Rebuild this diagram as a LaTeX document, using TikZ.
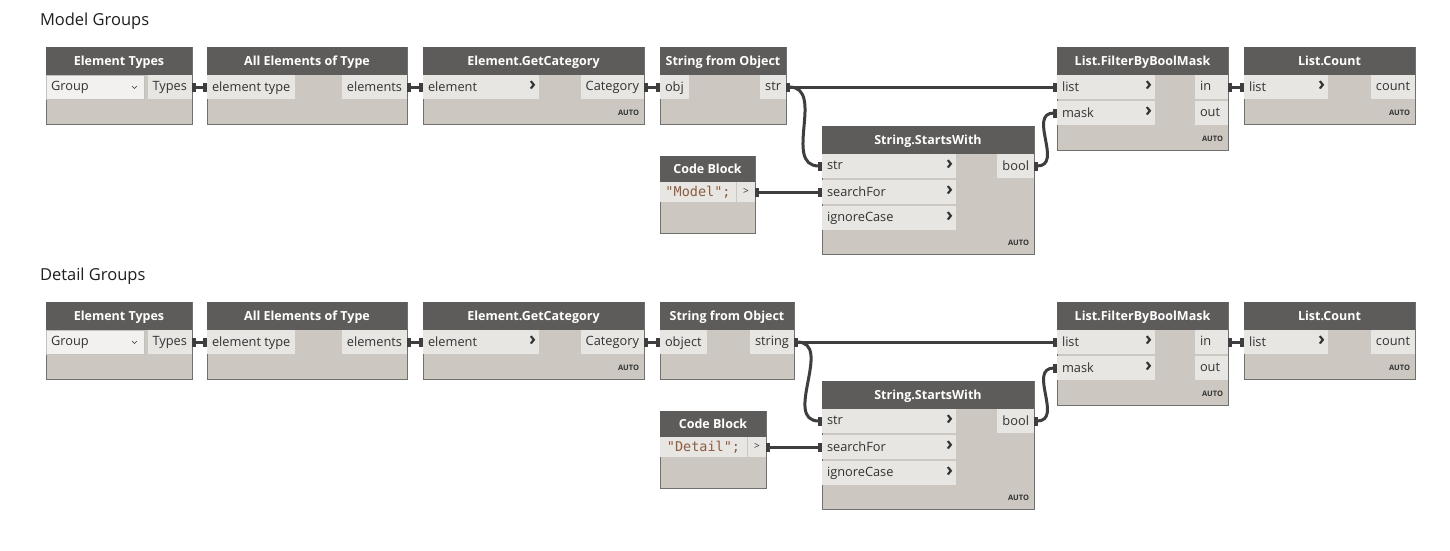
\documentclass[tikz,border=0pt]{standalone}
\usepackage{fontspec}
\setmainfont{Open Sans}
\newfontfamily\codefont{DejaVu Sans Mono}
\usepackage{tikz}
\usetikzlibrary{positioning,arrows.meta}
\definecolor{headgrey}{RGB}{94,92,90}
\definecolor{bodygrey}{RGB}{204,200,193}
\definecolor{portgrey}{RGB}{232,230,226}
\definecolor{edgegrey}{RGB}{112,112,110}
\definecolor{wiregrey}{RGB}{62,62,62}
\definecolor{labelgrey}{RGB}{50,50,50}
\definecolor{codebrown}{RGB}{140,92,64}
\definecolor{dropwhite}{RGB}{242,241,239}
\definecolor{dropedge}{RGB}{196,194,190}

\begin{document}
\begin{tikzpicture}[x=1pt, y=-1pt, outer sep=0pt,
grouptitle/.style={font=\fontsize{16.5}{20}\selectfont, text=black!88, anchor=west, inner sep=0pt},
body/.style={draw=edgegrey, fill=bodygrey, line width=0.8pt, anchor=north west, inner sep=0pt, minimum height=77pt},
head/.style={fill=headgrey, text=white, font=\fontsize{12.5}{15}\bfseries\selectfont, anchor=north west, inner sep=0pt, minimum height=28pt, text depth=1pt},
port/.style={fill=portgrey, text=labelgrey, font=\fontsize{12.8}{15}\selectfont, inner xsep=5pt, inner ysep=0pt, minimum height=24pt, text depth=1.5pt},
inport/.style={port, anchor=north west, align=left},
outport/.style={port, anchor=north east, align=left},
chevport/.style={inport, text width=#1, label={[chevron]east:›}},
chevron/.style={anchor=east, font=\fontsize{19}{19}\bfseries\selectfont, text=labelgrey, inner xsep=3pt, inner ysep=0pt, yshift=1pt},
drop/.style={fill=dropwhite, draw=dropedge, line width=0.6pt, text=labelgrey, font=\fontsize{12.8}{15}\selectfont, anchor=north west, align=left, inner xsep=5pt, inner ysep=0pt, minimum height=24pt, text depth=1.5pt},
codeline/.style={fill=portgrey, text=codebrown, font=\codefont\fontsize{13.5}{16}\selectfont, anchor=north west, inner xsep=4pt, inner ysep=0pt, minimum height=20pt},
autotag/.style={font=\fontsize{7.5}{9}\bfseries\selectfont, text=labelgrey, anchor=south east, inner sep=0pt},
wire/.style={draw=wiregrey, line width=3pt, {Rectangle[length=4pt, width=9pt]}-{Rectangle[length=4pt, width=9pt]}}]
\useasboundingbox[fill=white] (0,0) rectangle (1450,550);
\foreach \r/\dy/\word/\oin/\oout/\sw/\cb/\cw in {1/0/Model/obj/str/126/95/76, 2/255/Detail/object/string/134/106/87}{
\begin{scope}[shift={(0,\dy)}]
\node[grouptitle] (title\r) at (40,21) {\word\ Groups};
% Element Types
\node[body, minimum width=146pt] (types\r) at (46,47) {};
\node[head, minimum width=146pt] (types\r-h) at (types\r.north west) {Element Types};
\node[drop, text width=88pt] (types\r-in) at (types\r-h.south west) {Group};
\draw[labelgrey, line width=0.6pt] ([xshift=-12pt, yshift=1pt]types\r-in.east) -- ++(2.5,2.5) -- ++(2.5,-2.5);
\node[outport] (types\r-out) at (types\r-h.south east) {Types};
% All Elements of Type
\node[body, minimum width=200pt] (allel\r) at (207,47) {};
\node[head, minimum width=200pt] (allel\r-h) at (allel\r.north west) {All Elements of Type};
\node[inport] (allel\r-in) at (allel\r-h.south west) {element type};
\node[outport] (allel\r-out) at (allel\r-h.south east) {elements};
% Element.GetCategory
\node[body, minimum width=221pt] (getcat\r) at (423,47) {};
\node[head, minimum width=221pt] (getcat\r-h) at (getcat\r.north west) {Element.GetCategory};
\node[chevport=106pt] (getcat\r-in) at (getcat\r-h.south west) {element};
\node[outport] (getcat\r-out) at (getcat\r-h.south east) {Category};
\node[autotag] at ([xshift=-5pt, yshift=8pt]getcat\r.south east) {AUTO};
% String from Object
\node[body, minimum width=\sw pt] (tostr\r) at (660,47) {};
\node[head, minimum width=\sw pt] (tostr\r-h) at (tostr\r.north west) {String from Object};
\node[inport] (tostr\r-in) at (tostr\r-h.south west) {\oin};
\node[outport] (tostr\r-out) at (tostr\r-h.south east) {\oout};
% Code Block
\node[body, minimum width=\cb pt] (code\r) at (660,156) {};
\node[head, minimum width=\cb pt, minimum height=26pt] (code\r-h) at (code\r.north west) {Code Block};
\node[codeline, minimum width=\cw pt] (code\r-in) at (code\r-h.south west) {"\word";};
\node[outport, minimum height=20pt, minimum width=18pt, font=\fontsize{10}{12}\selectfont] (code\r-out) at (code\r-h.south east) {>};
% String.StartsWith
\node[body, minimum width=212pt, minimum height=128pt] (starts\r) at (822,126) {};
\node[head, minimum width=212pt] (starts\r-h) at (starts\r.north west) {String.StartsWith};
\node[chevport=124pt] (starts\r-str) at (starts\r-h.south west) {str};
\node[chevport=124pt, below=2pt of starts\r-str] (starts\r-search) {searchFor};
\node[chevport=124pt, below=2pt of starts\r-search] (starts\r-case) {ignoreCase};
\node[outport] (starts\r-bool) at (starts\r-h.south east) {bool};
\node[autotag] at ([xshift=-5pt, yshift=8pt]starts\r.south east) {AUTO};
% List.FilterByBoolMask
\node[body, minimum width=171pt, minimum height=103pt] (mask\r) at (1057,47) {};
\node[head, minimum width=171pt] (mask\r-h) at (mask\r.north west) {List.FilterByBoolMask};
\node[chevport=88pt] (mask\r-list) at (mask\r-h.south west) {list};
\node[chevport=88pt, below=2pt of mask\r-list] (mask\r-mask) {mask};
\node[outport, text width=23pt] (mask\r-in) at (mask\r-h.south east) {in};
\node[outport, text width=23pt, below=2pt of mask\r-in] (mask\r-out) {out};
\node[autotag] at ([xshift=-5pt, yshift=8pt]mask\r.south east) {AUTO};
% List.Count
\node[body, minimum width=171pt] (count\r) at (1244,47) {};
\node[head, minimum width=171pt] (count\r-h) at (count\r.north west) {List.Count};
\node[chevport=74pt] (count\r-list) at (count\r-h.south west) {list};
\node[outport] (count\r-out) at (count\r-h.south east) {count};
\node[autotag] at ([xshift=-5pt, yshift=8pt]count\r.south east) {AUTO};
% wires
\draw[wire] (types\r-out.east) -- (allel\r-in.west);
\draw[wire] (allel\r-out.east) -- (getcat\r-in.west);
\draw[wire] (getcat\r-out.east) -- (tostr\r-in.west);
\draw[wire] (tostr\r-out.east) -- (mask\r-list.west);
\draw[wire] (tostr\r-out.east) .. controls +(40,0) and +(-40,0) .. (starts\r-str.west);
\draw[wire] (code\r-out.east) -- (starts\r-search.west);
\draw[wire] (starts\r-bool.east) .. controls +(30,0) and +(-30,0) .. (mask\r-mask.west);
\draw[wire] (mask\r-in.east) -- (count\r-list.west);
\end{scope}
}
\end{tikzpicture}
\end{document}
